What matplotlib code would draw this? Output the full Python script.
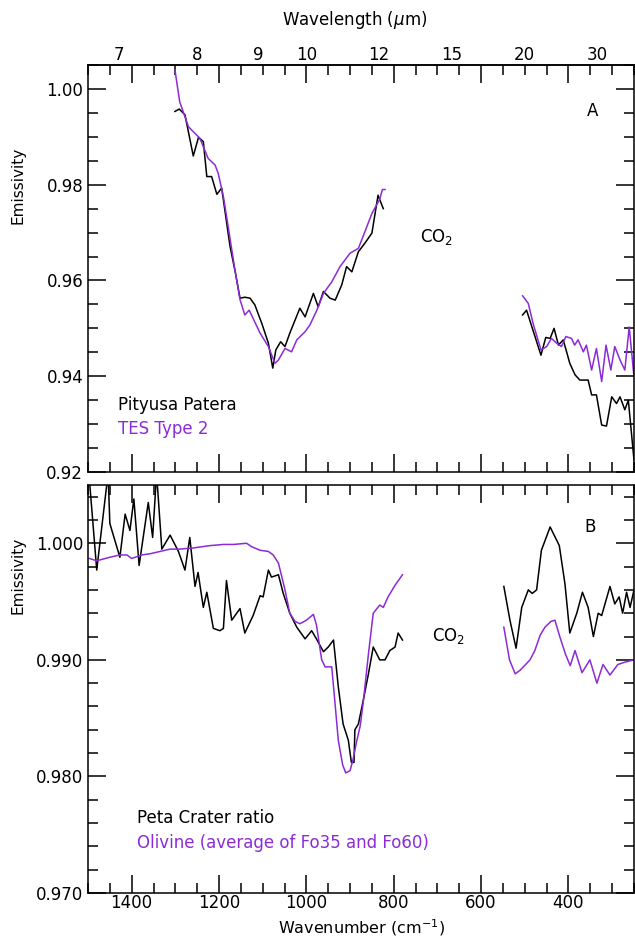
import numpy as np
from matplotlib import pyplot as plt
from matplotlib.ticker import MultipleLocator, FormatStrFormatter

PURPLE = '#8c2bd6'

# panel A, Pityusa Patera (black) and TES Type 2 (purple), wavenumber in cm-1
a_blk_wn1 = [1301, 1291, 1278, 1259, 1247, 1236, 1228, 1217, 1205, 1194, 1190, 1175,
             1163, 1152, 1141, 1129, 1118, 1102, 1087, 1077, 1070, 1059, 1049, 1038,
             1015, 1003, 984, 973, 961, 946, 934, 919, 908, 896, 881, 866, 850, 836, 824]
a_blk_em1 = [0.9953, 0.9958, 0.9946, 0.9860, 0.9899, 0.9890, 0.9817, 0.9817, 0.9780,
             0.9793, 0.9768, 0.9672, 0.9618, 0.9563, 0.9565, 0.9563, 0.9549, 0.9510,
             0.9469, 0.9417, 0.9455, 0.9472, 0.9462, 0.9490, 0.9542, 0.9524, 0.9573,
             0.9545, 0.9577, 0.9563, 0.9559, 0.9591, 0.9629, 0.9618, 0.9660, 0.9678,
             0.9699, 0.9778, 0.9750]
a_pur_wn1 = [1301, 1290, 1270, 1244, 1225, 1209, 1202, 1190, 1179, 1165, 1152, 1141,
             1131, 1106, 1087, 1072, 1064, 1049, 1034, 1022, 1003, 992, 976, 961, 942,
             923, 900, 881, 866, 850, 832, 826, 820]
a_pur_em1 = [1.0040, 0.9973, 0.9921, 0.9897, 0.9855, 0.9841, 0.9824, 0.9775, 0.9712,
             0.9630, 0.9560, 0.9528, 0.9538, 0.9490, 0.9462, 0.9427, 0.9434, 0.9458,
             0.9451, 0.9476, 0.9493, 0.9507, 0.9538, 0.9573, 0.9597, 0.9629, 0.9657,
             0.9667, 0.9702, 0.9740, 0.9770, 0.9790, 0.9790]
a_blk_wn2 = [505, 496, 463, 452, 442, 433, 423, 412, 397, 385, 374, 355, 347, 336,
             324, 313, 301, 290, 282, 271, 263, 250]
a_blk_em2 = [0.9528, 0.9538, 0.9444, 0.9481, 0.9479, 0.9500, 0.9465, 0.9476, 0.9427,
             0.9403, 0.9392, 0.9392, 0.9361, 0.9361, 0.9298, 0.9296, 0.9357, 0.9343,
             0.9357, 0.9330, 0.9350, 0.9225]
a_pur_wn2 = [505, 492, 481, 463, 450, 439, 427, 416, 406, 393, 386, 378, 366, 359,
             347, 336, 324, 314, 303, 294, 282, 271, 261, 250]
a_pur_em2 = [0.9568, 0.9552, 0.9510, 0.9455, 0.9462, 0.9479, 0.9469, 0.9462, 0.9483,
             0.9479, 0.9465, 0.9476, 0.9451, 0.9465, 0.9413, 0.9458, 0.9389, 0.9465,
             0.9413, 0.9462, 0.9434, 0.9413, 0.9503, 0.9399]

# panel B, Peta Crater ratio (black) and olivine average (purple)
b_blk_wn1 = [1498, 1480, 1454, 1450, 1427, 1415, 1404, 1395, 1383, 1362, 1352, 1343,
             1331, 1312, 1293, 1278, 1267, 1255, 1248, 1236, 1228, 1213, 1198, 1190,
             1183, 1171, 1152, 1141, 1122, 1106, 1099, 1087, 1080, 1064, 1053, 1038,
             1022, 1003, 988, 977, 961, 950, 938, 927, 916, 904, 897, 891, 889, 881,
             870, 858, 847, 832, 820, 809, 797, 790, 780]
b_blk_em1 = [1.0060, 0.9977, 1.0060, 1.0017, 0.9988, 1.0025, 1.0011, 1.0038, 0.9981,
             1.0035, 1.0005, 1.0060, 0.9995, 1.0007, 0.9993, 0.9977, 1.0005, 0.9963,
             0.9975, 0.9945, 0.9958, 0.9927, 0.9925, 0.9927, 0.9968, 0.9934, 0.9944,
             0.9923, 0.9938, 0.9955, 0.9954, 0.9977, 0.9971, 0.9973, 0.9957, 0.9940,
             0.9928, 0.9918, 0.9925, 0.9918, 0.9907, 0.9911, 0.9917, 0.9877, 0.9845,
             0.9831, 0.9812, 0.9812, 0.9840, 0.9845, 0.9865, 0.9888, 0.9911, 0.9900,
             0.9900, 0.9908, 0.9911, 0.9923, 0.9917]
b_pur_wn1 = [1497, 1480, 1450, 1427, 1411, 1400, 1377, 1358, 1335, 1312, 1290, 1259,
             1221, 1190, 1167, 1137, 1125, 1106, 1087, 1076, 1064, 1049, 1038, 1026,
             1015, 1000, 984, 977, 965, 957, 942, 935, 927, 917, 910, 900, 893, 885,
             877, 870, 858, 847, 832, 824, 813, 797, 780]
b_pur_em1 = [0.9987, 0.9985, 0.9988, 0.9990, 0.9990, 0.9987, 0.9990, 0.9991, 0.9993,
             0.9995, 0.9995, 0.9996, 0.9998, 0.9999, 0.9999, 1.0000, 0.9997, 0.9994,
             0.9993, 0.9990, 0.9983, 0.9960, 0.9940, 0.9933, 0.9931, 0.9934, 0.9939,
             0.9930, 0.9900, 0.9894, 0.9894, 0.9865, 0.9831, 0.9810, 0.9803, 0.9805,
             0.9815, 0.9830, 0.9843, 0.9863, 0.9905, 0.9940, 0.9947, 0.9945, 0.9954,
             0.9964, 0.9973]
b_blk_wn2 = [548, 534, 520, 507, 492, 483, 473, 462, 442, 421, 408, 397, 381, 368,
             355, 343, 332, 324, 305, 294, 284, 276, 267, 259, 250]
b_blk_em2 = [0.9963, 0.9934, 0.9910, 0.9945, 0.9960, 0.9957, 0.9960, 0.9994, 1.0014,
             0.9998, 0.9965, 0.9923, 0.9940, 0.9958, 0.9945, 0.9920, 0.9940, 0.9938,
             0.9963, 0.9948, 0.9954, 0.9940, 0.9958, 0.9945, 0.9960]
b_pur_wn2 = [548, 535, 522, 511, 488, 477, 465, 454, 440, 431, 420, 407, 396, 385,
             369, 351, 335, 321, 305, 287, 271, 250]
b_pur_em2 = [0.9928, 0.9900, 0.9888, 0.9891, 0.9900, 0.9908, 0.9921, 0.9928, 0.9933,
             0.9934, 0.9920, 0.9905, 0.9895, 0.9908, 0.9889, 0.9900, 0.9880, 0.9896,
             0.9887, 0.9896, 0.9898, 0.9900]

wl_ticks = [7, 8, 9, 10, 12, 15, 20, 30]

plt.rcParams['font.family'] = 'DejaVu Sans'
plt.rcParams['axes.linewidth'] = 1.1

fig = plt.figure(figsize=(6.35, 9.39), dpi=100)
axA = fig.add_axes([88/635, 1-472/939, 546/635, 407/939])
axB = fig.add_axes([88/635, 1-893/939, 546/635, 408/939])

for ax in (axA, axB):
    ax.set_xlim(1500, 250)
    ax.xaxis.set_major_locator(MultipleLocator(200))
    ax.xaxis.set_minor_locator(MultipleLocator(50))
    ax.tick_params(which='both', direction='in', top=True, right=True,
                   width=1.1, labelsize=12)
    ax.tick_params(which='major', length=13)
    ax.tick_params(which='minor', length=7)

axA.plot(a_blk_wn1, a_blk_em1, color='black', lw=1.1)
axA.plot(a_blk_wn2, a_blk_em2, color='black', lw=1.1)
axA.plot(a_pur_wn1, a_pur_em1, color=PURPLE, lw=1.1)
axA.plot(a_pur_wn2, a_pur_em2, color=PURPLE, lw=1.1)
axA.set_ylim(0.92, 1.005)
axA.yaxis.set_major_locator(MultipleLocator(0.02))
axA.yaxis.set_minor_locator(MultipleLocator(0.005))
axA.yaxis.set_major_formatter(FormatStrFormatter('%.2f'))
axA.tick_params(axis='x', labelbottom=False)

sec = axA.secondary_xaxis('top', functions=(lambda v: 1e4/np.asarray(v, float),
                                              lambda l: 1e4/np.asarray(l, float)))
sec.set_xticks(wl_ticks)
sec.set_xticklabels([str(w) for w in wl_ticks])
sec.tick_params(length=0, pad=1, labelsize=12)
sec.minorticks_off()
fig.text(355/635, 1-20/939, r'Wavelength ($\mu$m)', ha='center', va='center', fontsize=12)

axA.text(0.925, 0.887, 'A', transform=axA.transAxes, fontsize=12, ha='center', va='center')
axA.text(0.608, 0.577, 'CO$_2$', transform=axA.transAxes, fontsize=12, ha='left', va='center')
axA.text(0.055, 0.165, 'Pityusa Patera', transform=axA.transAxes, fontsize=12, va='center')
axA.text(0.055, 0.106, 'TES Type 2', transform=axA.transAxes, fontsize=12, va='center',
         color=PURPLE)

axB.plot(b_blk_wn1, b_blk_em1, color='black', lw=1.1)
axB.plot(b_blk_wn2, b_blk_em2, color='black', lw=1.1)
axB.plot(b_pur_wn1, b_pur_em1, color=PURPLE, lw=1.1)
axB.plot(b_pur_wn2, b_pur_em2, color=PURPLE, lw=1.1)
axB.set_ylim(0.970, 1.005)
axB.yaxis.set_major_locator(MultipleLocator(0.01))
axB.yaxis.set_minor_locator(MultipleLocator(0.002))
axB.yaxis.set_major_formatter(FormatStrFormatter('%.3f'))
axB.tick_params(axis='x', pad=1)
fig.text(362/635, 0.5/939, 'Wavenumber (cm$^{-1}$)', ha='center', va='bottom', fontsize=11.5)

axB.text(0.919, 0.897, 'B', transform=axB.transAxes, fontsize=12, ha='center', va='center')
axB.text(0.630, 0.63, 'CO$_2$', transform=axB.transAxes, fontsize=12, ha='left', va='center')
axB.text(0.09, 0.184, 'Peta Crater ratio', transform=axB.transAxes, fontsize=12, va='center')
axB.text(0.09, 0.1225, 'Olivine (average of Fo35 and Fo60)', transform=axB.transAxes,
         fontsize=12, va='center', color=PURPLE)

fig.text(18/635, 1-185/939, 'Emissivity', rotation=90, ha='center', va='center', fontsize=11)
fig.text(18/635, 1-575/939, 'Emissivity', rotation=90, ha='center', va='center', fontsize=11)

fig.savefig('out.png', dpi=100)
